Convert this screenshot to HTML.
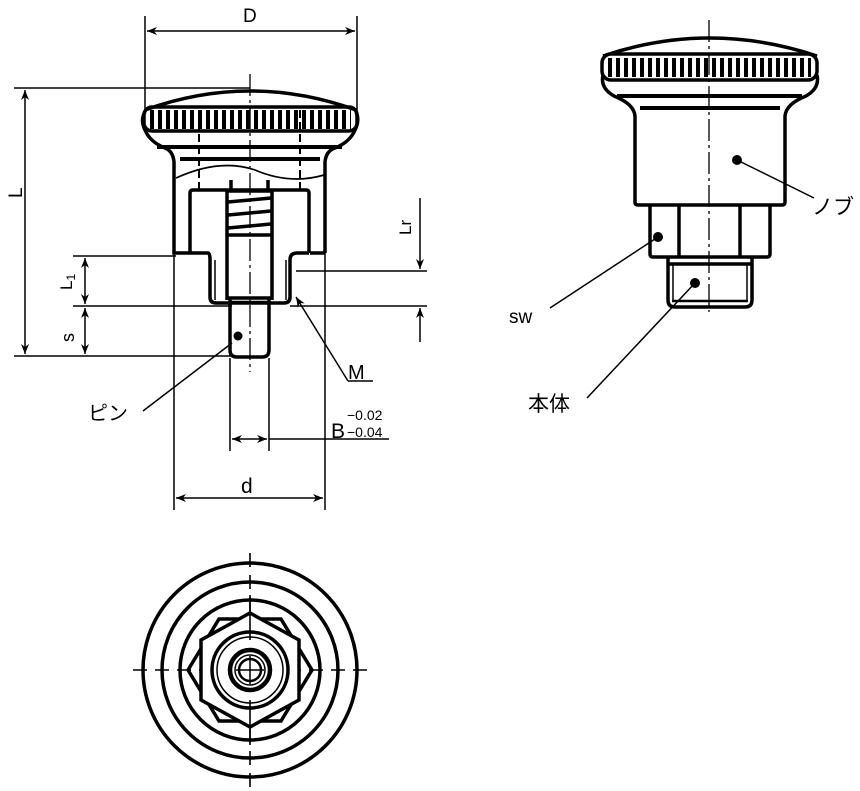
<!DOCTYPE html>
<html><head><meta charset="utf-8"><style>
html,body{margin:0;padding:0;background:#fff;}
svg{display:block;}
text{font-family:"Liberation Sans","Noto Sans CJK JP",sans-serif;fill:#000;}
</style></head><body>
<svg width="860" height="791" viewBox="0 0 860 791" xmlns="http://www.w3.org/2000/svg">
<defs>
<pattern id="k" x="150" y="0" width="8" height="40" patternUnits="userSpaceOnUse"><rect x="0" y="0" width="4" height="40" fill="#000"/></pattern>
<pattern id="k2" x="608" y="0" width="8" height="40" patternUnits="userSpaceOnUse"><rect x="0" y="0" width="4" height="40" fill="#000"/></pattern>
<marker id="a" viewBox="0 0 10 10" refX="10" refY="5" markerWidth="10" markerHeight="10" orient="auto-start-reverse" markerUnits="userSpaceOnUse"><path d="M0,1 L10,5 L0,9 L3,5 Z" fill="#000"/></marker>
</defs>

<!-- ===== LEFT VIEW ===== -->
<g fill="none" stroke="#000">
<g stroke-width="1.5">
 <line x1="145" y1="16" x2="145" y2="112"/>
 <line x1="357" y1="16" x2="357" y2="112"/>
 <line x1="147" y1="31" x2="355" y2="31" marker-start="url(#a)" marker-end="url(#a)"/>
 <line x1="14" y1="88" x2="250" y2="88"/>
 <line x1="14" y1="356" x2="232" y2="356"/>
 <line x1="25" y1="90" x2="25" y2="354" marker-start="url(#a)" marker-end="url(#a)"/>
 <line x1="73" y1="256" x2="176" y2="256"/>
 <line x1="73" y1="306" x2="232" y2="306"/>
 <line x1="85" y1="258" x2="85" y2="304" marker-start="url(#a)" marker-end="url(#a)"/>
 <line x1="85" y1="308" x2="85" y2="354" marker-start="url(#a)" marker-end="url(#a)"/>
 <line x1="296" y1="271" x2="427" y2="271"/>
 <line x1="290" y1="306" x2="427" y2="306"/>
 <line x1="420" y1="198" x2="420" y2="269" marker-end="url(#a)"/>
 <line x1="420" y1="342" x2="420" y2="308" marker-end="url(#a)"/>
 <line x1="174" y1="253" x2="174" y2="510"/>
 <line x1="325" y1="253" x2="325" y2="510"/>
 <line x1="176" y1="498" x2="323" y2="498" marker-start="url(#a)" marker-end="url(#a)"/>
 <line x1="230" y1="358" x2="230" y2="451"/>
 <line x1="269" y1="358" x2="269" y2="451"/>
 <line x1="232" y1="439" x2="267" y2="439" marker-start="url(#a)" marker-end="url(#a)"/>
 <line x1="269" y1="439" x2="389" y2="439"/>
 <line x1="296" y1="297" x2="348" y2="381" marker-start="url(#a)"/>
 <line x1="348" y1="381" x2="373" y2="381"/>
 <line x1="232" y1="343" x2="143" y2="411"/>
</g>
<line x1="250" y1="74" x2="250" y2="372" stroke-width="1.3" stroke-dasharray="22,4,3,4"/>
<line x1="199" y1="110" x2="199" y2="190" stroke-width="2" stroke-dasharray="8,4"/>
<line x1="300" y1="110" x2="300" y2="190" stroke-width="2" stroke-dasharray="8,4"/>
<path d="M145,110 Q250,72 356,110" stroke-width="3.5"/>
<path d="M145,112 Q140,120 145,130 Q150,142 165,148 Q173,151 174,162 L174,253 L190,253 M325,253 L325,162 Q326,151 335,148 Q350,142 355,130 Q360,120 356,112 M310,253 L325,253" stroke-width="3.5"/>
<rect x="144" y="107" width="213" height="24" rx="8" stroke-width="3.5"/>
<rect x="150" y="110" width="201" height="19" fill="url(#k)" stroke="none"/>
<line x1="157" y1="147" x2="342" y2="147" stroke-width="4"/>
<line x1="180" y1="159" x2="320" y2="159" stroke-width="4"/>
<path d="M176,178 Q220,158 255,170 Q290,185 324,175" stroke-width="1.7"/>
<path d="M190,253 L190,193 Q190,190 193,190 L306,190 Q309,190 309,193 L309,253" stroke-width="3.5"/>
<path d="M190,253 L208,253 Q210,253 210,260 L210,297 Q210,303 216,303 L284,303 Q290,303 290,297 L290,260 Q290,253 297,253 L309,253" stroke-width="3.5"/>
<path d="M215,260 L215,300 M286,260 L286,300" stroke-width="1.5"/>
<path d="M227,190 L227,300 M272,190 L272,300" stroke-width="3.5"/>
<path d="M227,235 L272,235" stroke-width="3.5"/>
<g stroke-width="3.5"><line x1="228" y1="191" x2="271" y2="191"/><line x1="228" y1="202" x2="271" y2="198"/><line x1="228" y1="215" x2="271" y2="211"/><line x1="228" y1="228" x2="271" y2="224"/></g>
<line x1="231" y1="180" x2="231" y2="192" stroke-width="3.5"/><line x1="268" y1="180" x2="268" y2="192" stroke-width="3.5"/>
<path d="M230,298 L230,350 Q230,357 237,357 L262,357 Q269,357 269,350 L269,298 Z" stroke-width="3.5"/>
<line x1="231" y1="302" x2="268" y2="302" stroke-width="2.5"/>
</g>
<circle cx="238" cy="336" r="4.5" fill="#000"/>
<text x="243" y="22" font-size="19">D</text>
<text transform="translate(22,198) rotate(-90)" font-size="19">L</text>
<text transform="translate(72,290) rotate(-90)" font-size="17">L<tspan font-size="12" dy="3">1</tspan></text>
<text transform="translate(74,342) rotate(-90)" font-size="18">s</text>
<text transform="translate(411,235) rotate(-90)" font-size="17">Lr</text>
<text x="348" y="379" font-size="20">M</text>
<text x="331" y="438" font-size="21">B</text>
<text x="347" y="420" font-size="14">−0.02</text>
<text x="347" y="437" font-size="14">−0.04</text>
<text x="241" y="493" font-size="21">d</text>
<text x="88" y="420" font-size="20">ピン</text>

<!-- ===== RIGHT VIEW ===== -->
<g fill="none" stroke="#000">
<line x1="709" y1="20" x2="709" y2="312" stroke-width="1.3" stroke-dasharray="22,4,3,4"/>
<path d="M603,56 Q709,20 817,56" stroke-width="3.5"/>
<rect x="602" y="54" width="215" height="26" rx="9" stroke-width="3.5"/>
<rect x="608" y="58" width="203" height="19" fill="url(#k2)" stroke="none"/>
<path d="M603,75 Q600,88 614,96 Q634,104 635,116 L635,202 Q635,205 638,205 L782,205 Q785,205 785,202 L785,116 Q786,104 806,96 Q820,88 817,75" stroke-width="3.5"/>
<line x1="617" y1="96" x2="802" y2="96" stroke-width="4"/>
<line x1="640" y1="108" x2="780" y2="108" stroke-width="4"/>
<path d="M650,205 L650,254 Q650,257 653,257 L767,257 Q770,257 770,254 L770,205" stroke-width="3.5"/>
<line x1="679" y1="206" x2="679" y2="256" stroke-width="3.5"/>
<line x1="740" y1="206" x2="740" y2="256" stroke-width="3.5"/>
<path d="M668,258 L668,300 Q668,307 675,307 L745,307 Q752,307 752,300 L752,258" stroke-width="3.5"/>
<line x1="669" y1="264" x2="751" y2="264" stroke-width="3.5"/>
<line x1="672" y1="301" x2="748" y2="301" stroke-width="2.5"/>
<line x1="673" y1="264" x2="673" y2="300" stroke-width="1.5"/>
<line x1="747" y1="264" x2="747" y2="300" stroke-width="1.5"/>
<g stroke-width="1.5">
<line x1="737" y1="160" x2="814" y2="198"/>
<line x1="658" y1="237" x2="550" y2="308"/>
<line x1="695" y1="283" x2="587" y2="398"/>
</g>
</g>
<circle cx="737" cy="160" r="5" fill="#000"/>
<circle cx="658" cy="237" r="5" fill="#000"/>
<circle cx="695" cy="283" r="5" fill="#000"/>
<text x="812" y="214" font-size="21">ノブ</text>
<text x="509" y="323" font-size="19">sw</text>
<text x="528" y="411" font-size="21">本体</text>

<!-- ===== BOTTOM VIEW ===== -->
<g fill="none" stroke="#000">
<line x1="133" y1="670" x2="367" y2="670" stroke-width="1.6" stroke-dasharray="14,8"/>
<line x1="250" y1="553" x2="250" y2="787" stroke-width="1.6" stroke-dasharray="14,8"/>
<circle cx="250" cy="670" r="107" stroke-width="3.5"/>
<circle cx="250" cy="670" r="88" stroke-width="3.5"/>
<circle cx="250" cy="670" r="70" stroke-width="3.5"/>
<polygon points="188,670 219,619 281,619 312,670 281,721 219,721" stroke-width="3.5"/>
<polygon points="250,613 299,640 299,700 250,727 201,700 201,640" stroke-width="3.5" fill="#fff"/>
<circle cx="250" cy="670" r="38" stroke-width="3.5"/>
<circle cx="250" cy="670" r="33" stroke-width="1.5"/>
<circle cx="250" cy="670" r="20" stroke-width="4.5"/>
<circle cx="250" cy="670" r="15" stroke-width="1.5"/>
<circle cx="250" cy="670" r="11" stroke-width="2.5"/>
<line x1="236" y1="670" x2="264" y2="670" stroke-width="1.5"/>
<line x1="250" y1="656" x2="250" y2="684" stroke-width="1.5"/>
<line x1="250" y1="595" x2="250" y2="640" stroke-width="1.6"/>
<line x1="250" y1="700" x2="250" y2="745" stroke-width="1.6"/>
</g>
</svg>
</body></html>
